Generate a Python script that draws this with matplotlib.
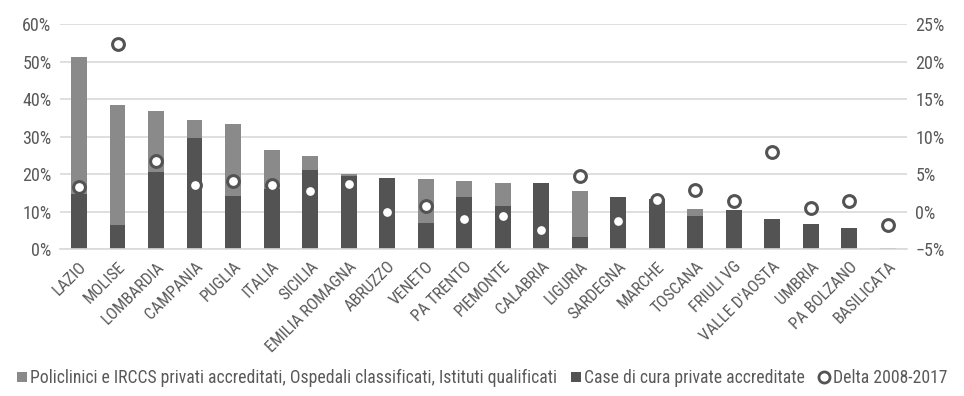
import matplotlib
matplotlib.use("Agg")
import matplotlib.pyplot as plt
from matplotlib import font_manager
from matplotlib.ticker import PercentFormatter
from matplotlib.lines import Line2D
from matplotlib.patches import Patch
import numpy as np

# Prefer a condensed sans face when one is installed
installed = {f.name for f in font_manager.fontManager.ttflist}
condensed = [n for n in ["Liberation Sans Narrow", "Roboto Condensed", "Noto Sans Condensed",
                         "Open Sans Condensed", "Noto Sans Display Condensed", "Arial Narrow"]
             if n in installed]
plt.rcParams['font.family'] = condensed + ['Liberation Sans', 'DejaVu Sans']
narrow_found = bool(condensed)

regions = ["LAZIO", "MOLISE", "LOMBARDIA", "CAMPANIA", "PUGLIA", "ITALIA", "SICILIA",
           "EMILIA ROMAGNA", "ABRUZZO", "VENETO", "PA TRENTO", "PIEMONTE", "CALABRIA",
           "LIGURIA", "SARDEGNA", "MARCHE", "TOSCANA", "FRIULI VG", "VALLE D'AOSTA",
           "UMBRIA", "PA BOLZANO", "BASILICATA"]

# Case di cura private accreditate (%)
case_cura = [14.8, 6.5, 20.5, 29.5, 14.2, 16.0, 21.2, 19.4, 19.0, 6.9, 13.9, 11.6, 17.5,
             3.1, 14.0, 13.4, 8.9, 10.5, 8.1, 6.6, 5.5, 0.0]
# Policlinici, IRCCS, Ospedali classificati, Istituti qualificati (%)
policlinici = [36.4, 31.9, 16.3, 5.0, 19.1, 10.3, 3.7, 0.5, 0.0, 11.8, 4.3, 5.9, 0.0,
               12.5, 0.0, 0.0, 1.9, 0.0, 0.0, 0.0, 0.0, 0.4]
# Delta 2008-2017 (%)
delta = [3.3, 22.3, 6.8, 3.5, 4.1, 3.5, 2.7, 3.7, 0.0, 0.8, -1.0, -0.6, -2.5,
         4.7, -1.2, 1.6, 2.9, 1.4, 7.9, 0.5, 1.4, -1.8]

label_pol = "Policlinici e IRCCS privati accreditati, Ospedali classificati, Istituti qualificati"
label_case = "Case di cura private accreditate"
label_delta = "Delta 2008-2017"

dark = "#535353"
light = "#8a8a8a"
text_col = "#595959"
grid_col = "#d9d9d9"

fs_y = 13 if narrow_found else 12
fs_x = 12 if narrow_found else 11
fs_leg = 12.7 if narrow_found else 11.5

fig = plt.figure(figsize=(9.64, 3.96), dpi=100)
ax = fig.add_axes([0.062, 0.371, 0.879, 0.568])
ax2 = ax.twinx()

x = np.arange(len(regions))
w = 0.41
ax.bar(x, case_cura, w, color=dark, zorder=2)
ax.bar(x, policlinici, w, bottom=case_cura, color=light, zorder=2)

ax.set_xlim(-0.5, len(regions) - 0.5)
ax.set_ylim(0, 60)
ax.set_yticks(np.arange(0, 61, 10))
ax.yaxis.set_major_formatter(PercentFormatter(decimals=0))
ax.grid(axis='y', color=grid_col, linewidth=1.2, zorder=0)
ax.set_axisbelow(True)

ax2.set_ylim(-5, 25)
ax2.set_yticks(np.arange(-5, 26, 5))
ax2.yaxis.set_major_formatter(PercentFormatter(decimals=0))
ax2.plot(x, delta, linestyle='none', marker='o', markersize=8.5, markerfacecolor='white',
         markeredgecolor=dark, markeredgewidth=2.2, zorder=3)

for a in (ax, ax2):
    for s in a.spines.values():
        s.set_visible(False)
    a.tick_params(axis='y', length=0, labelsize=fs_y, labelcolor=text_col, pad=6)
ax.spines['bottom'].set_visible(True)
ax.spines['bottom'].set_color(grid_col)
ax.spines['bottom'].set_linewidth(1.2)

ax.set_xticks(x)
ax.set_xticklabels(regions, rotation=45, ha='right', rotation_mode='anchor',
                   fontsize=fs_x, color=text_col)
ax.tick_params(axis='x', length=0, pad=7)

handles = [
    Patch(facecolor=light, edgecolor='none'),
    Patch(facecolor=dark, edgecolor='none'),
    Line2D([], [], linestyle='none', marker='o', markersize=8, markerfacecolor='white',
           markeredgecolor=dark, markeredgewidth=2),
]
fig.legend(handles, [label_pol, label_case, label_delta], loc='center',
           bbox_to_anchor=(0.5, 0.045), ncol=3, frameon=False, fontsize=fs_leg,
           labelcolor=text_col, handlelength=0.55, handleheight=0.55, handletextpad=0.2,
           columnspacing=0.8)

fig.savefig("out.png", dpi=100)
